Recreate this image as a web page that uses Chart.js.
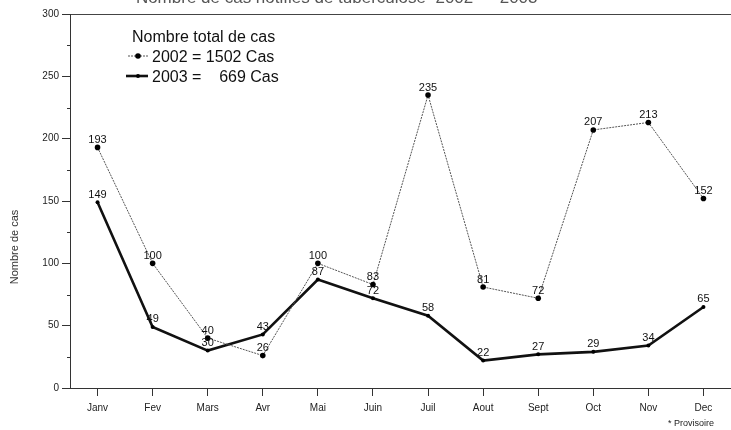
<!DOCTYPE html>
<html>
<head>
<meta charset="utf-8">
<script src="https://cdn.jsdelivr.net/npm/chart.js@4.4.1/dist/chart.umd.min.js"></script>
<style>
  html, body { margin: 0; padding: 0; background: #fff; overflow: hidden; }
  #cadre { width: 731px; height: 430px; overflow: hidden; }
  #wrap { width: 735px; height: 430px; }
</style>
</head>
<body>
<div id="cadre"><div id="wrap"><canvas id="cas"></canvas></div></div>
<script>
const mois = ["Janv", "Fev", "Mars", "Avr", "Mai", "Juin", "Juil", "Aout", "Sept", "Oct", "Nov", "Dec"];
const cas2002 = [193, 100, 40, 26, 100, 83, 235, 81, 72, 207, 213, 152];
const cas2003 = [149, 49, 30, 43, 87, 72, 58, 22, 27, 29, 34, 65];
const legendeTitre = "Nombre total de cas";
const legendeTextes = ["2002 = 1502 Cas", "2003 =    669 Cas"];

const police = "'Liberation Sans', Arial, sans-serif";

// étiquettes, légende et petits textes dessinés à la main
const decor = {
    id: 'decor',
    afterDatasetsDraw(chart) {
        const c = chart.ctx;
        const y = chart.scales.y;
        const area = chart.chartArea;
        c.save();

        // graduations intermédiaires
        c.strokeStyle = '#333';
        c.lineWidth = 1;
        for (let v = 25; v < 300; v += 50) {
            const py = Math.round(y.getPixelForValue(v)) + 0.5;
            c.beginPath();
            c.moveTo(area.left - 3, py);
            c.lineTo(area.left, py);
            c.stroke();
        }

        // valeurs au-dessus des points
        c.fillStyle = '#111';
        c.font = "11px " + police;
        c.textAlign = 'center';
        c.textBaseline = 'bottom';
        chart.data.datasets.forEach((ds, i) => {
            chart.getDatasetMeta(i).data.forEach((pt, j) => {
                c.fillText(ds.data[j], pt.x, pt.y - 2);
            });
        });

        // légende
        c.textAlign = 'left';
        c.textBaseline = 'alphabetic';
        c.font = "16px " + police;
        c.fillStyle = '#111';
        c.fillText(legendeTitre, 132, 42);
        legendeTextes.forEach((t, i) => {
            const base = 62 + i * 20;
            const ly = base - 6;
            const ds = chart.data.datasets[i];
            c.strokeStyle = ds.borderColor;
            c.lineWidth = ds.borderWidth;
            c.setLineDash(ds.borderDash || []);
            c.beginPath();
            c.moveTo(i === 0 ? 128 : 126, ly);
            c.lineTo(148, ly);
            c.stroke();
            c.setLineDash([]);
            c.fillStyle = '#000';
            c.beginPath();
            c.arc(138, ly, i === 0 ? 2.8 : 2, 0, Math.PI * 2);
            c.fill();
            c.fillStyle = '#111';
            c.fillText(t, 152, base);
        });

        // titre de l'axe y
        c.save();
        c.translate(18, 247);
        c.rotate(-Math.PI / 2);
        c.textAlign = 'center';
        c.font = "11px " + police;
        c.fillStyle = '#333';
        c.fillText("Nombre de cas", 0, 0);
        c.restore();

        // titre coupé en haut
        c.textAlign = 'center';
        c.font = "17px " + police;
        c.fillStyle = '#555';
        c.fillText("Nombre de cas notifiés de tuberculose  2002 — 2003*", 340, 3);

        // note
        c.font = "9px " + police;
        c.fillStyle = '#222';
        c.fillText("* Provisoire", 691, 426);
        c.restore();
    }
};

new Chart(document.getElementById('cas'), {
    type: 'line',
    data: {
        labels: mois,
        datasets: [
            {
                label: "2002",
                data: cas2002,
                borderColor: "#555",
                borderWidth: 1,
                borderDash: [2, 1],
                pointRadius: 2.8,
                pointBackgroundColor: "#000",
                pointBorderWidth: 0,
                tension: 0
            },
            {
                label: "2003",
                data: cas2003,
                borderColor: "#111",
                borderWidth: 2.6,
                pointRadius: 2,
                pointBackgroundColor: "#000",
                pointBorderWidth: 0,
                tension: 0
            }
        ]
    },
    options: {
        responsive: true,
        maintainAspectRatio: false,
        animation: false,
        layout: { padding: { top: 14, right: 0, left: 0, bottom: 0 } },
        scales: {
            x: {
                offset: true,
                border: { color: '#333', width: 1 },
                grid: { drawOnChartArea: false, tickLength: 8, color: '#333', offset: false },
                ticks: { color: '#222', font: { size: 10, family: police }, padding: 6 },
                afterFit(s) { s.height = 42; }
            },
            y: {
                min: 0,
                max: 300,
                border: { color: '#333', width: 1 },
                grid: {
                    color: ctx => ctx.tick && ctx.tick.value === 300 ? '#444' : 'transparent',
                    tickColor: '#333',
                    tickLength: 8
                },
                ticks: { stepSize: 50, color: '#222', font: { size: 10, family: police }, padding: 3 },
                afterFit(s) { s.width = 70; }
            }
        },
        plugins: {
            legend: { display: false },
            tooltip: { enabled: false }
        }
    },
    plugins: [decor]
});
</script>
</body>
</html>
